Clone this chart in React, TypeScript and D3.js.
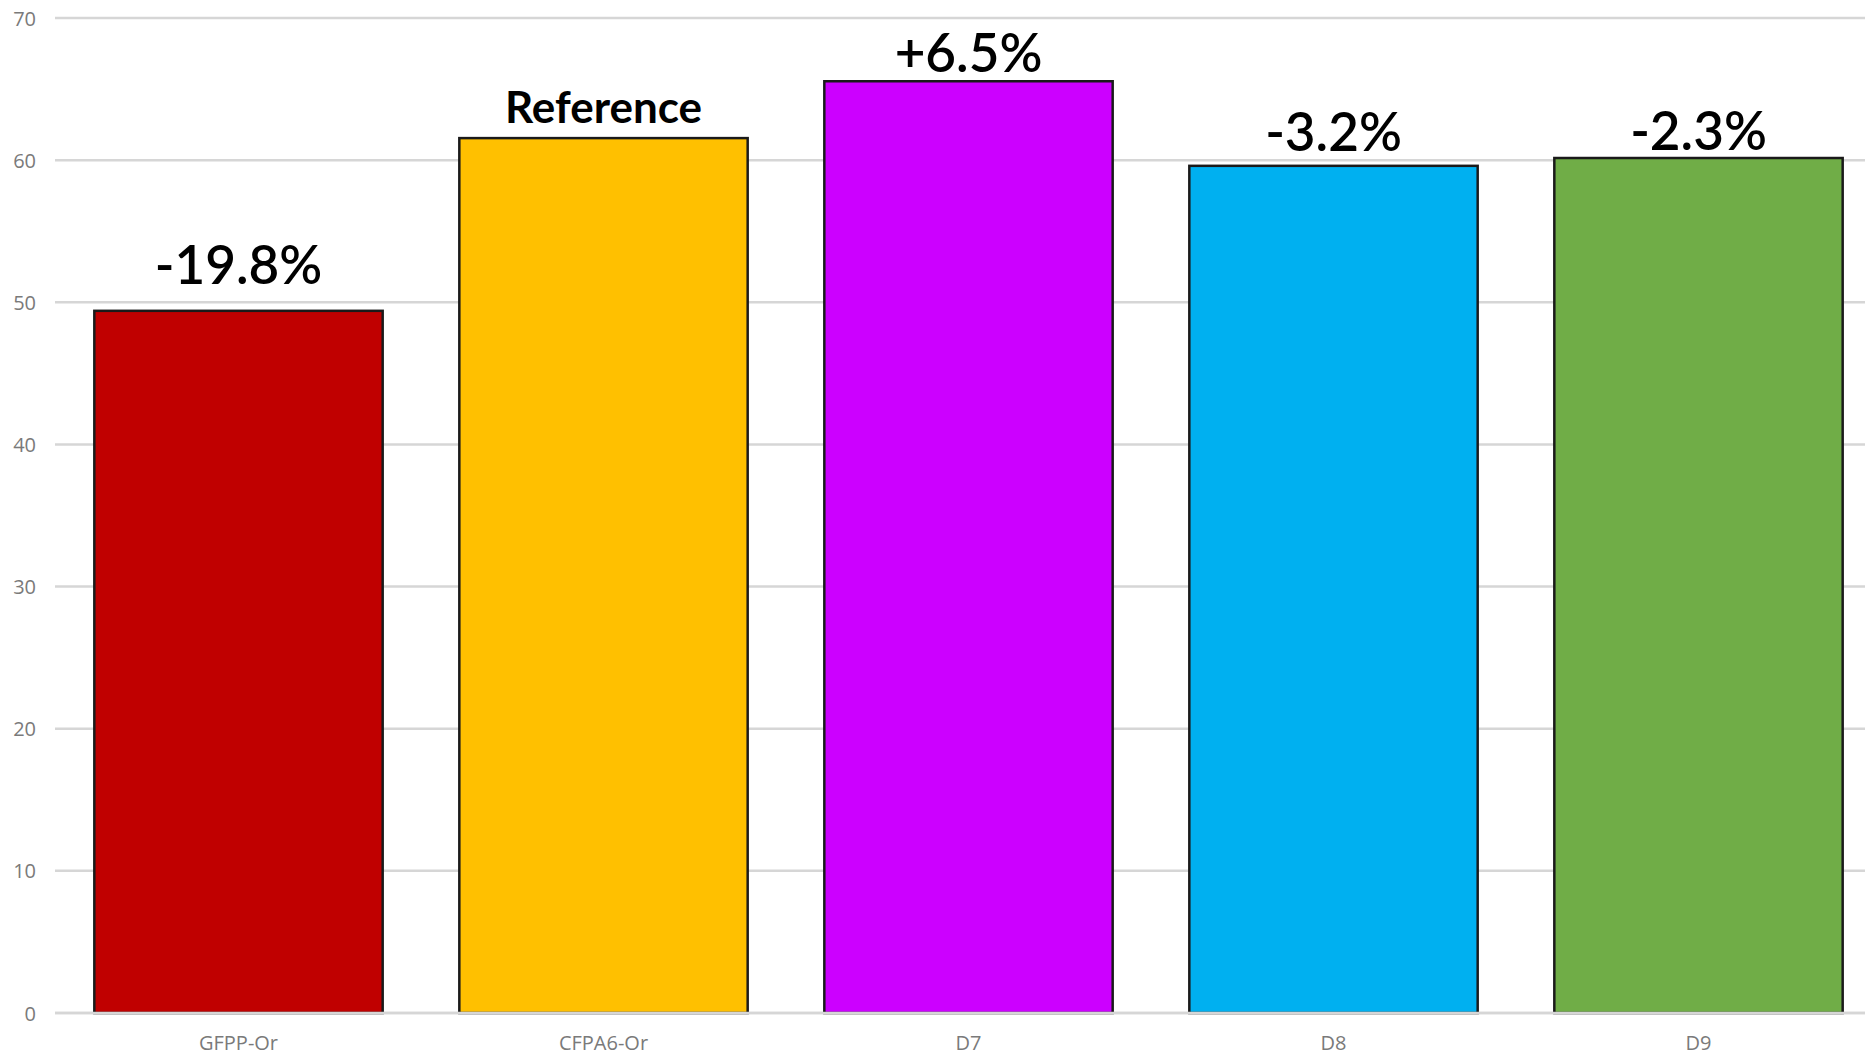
import React from "react";
import * as d3 from "d3";

const categories = ["GFPP-Or", "CFPA6-Or", "D7", "D8", "D9"];
const values = [49.4, 61.55, 65.55, 59.6, 60.15];
const barLabels = ["-19.8%", "Reference", "+6.5%", "-3.2%", "-2.3%"];
const labelBold = [false, true, false, false, false];
const labelLift = [27, 15, 9, 15, 8];
const colors = ["#C00000", "#FFC000", "#CC00FF", "#00B0F0", "#70AD47"];
const yTicks = [0, 10, 20, 30, 40, 50, 60, 70];

const W = 1865;
const H = 1055;

export default function App() {
  const x = d3
    .scaleBand<string>()
    .domain(categories)
    .range([56, 1881])
    .paddingInner(0.21)
    .paddingOuter(0.105);
  const y = d3.scaleLinear().domain([0, 70]).range([1013, 18]);

  return (
    <div style={{ position: "fixed", left: 0, top: 0, width: W, height: H, background: "#fff" }}>
      <svg width={W} height={H} style={{ display: "block" }}>
        <rect x={0} y={0} width={W} height={H} fill="#fff" />
        {yTicks.map((t) => (
          <g key={t}>
            <line x1={55} x2={W} y1={y(t)} y2={y(t)} stroke="#d6d6d6" strokeWidth={2.5} />
            <text
              x={36}
              y={y(t)}
              textAnchor="end"
              dominantBaseline="central"
              fontFamily="'Open Sans', sans-serif"
              fontSize={20}
              fill="#7a7a7a"
            >
              {t}
            </text>
          </g>
        ))}
        {categories.map((c, i) => {
          const bx = x(c)!;
          const bw = x.bandwidth();
          const top = y(values[i]);
          return (
            <g key={c}>
              <rect
                x={bx}
                y={top}
                width={bw}
                height={y(0) - top}
                fill={colors[i]}
                stroke="#1a1a1a"
                strokeWidth={2.5}
              />
              <text
                x={bx + bw / 2}
                y={top - labelLift[i]}
                textAnchor="middle"
                fontFamily="Lato, 'Open Sans', sans-serif"
                fontWeight={labelBold[i] ? 700 : 600}
                fontSize={labelBold[i] ? 44 : 53}
                fill="#000"
              >
                {barLabels[i]}
              </text>
              <text
                x={bx + bw / 2}
                y={1050}
                textAnchor="middle"
                fontFamily="'Open Sans', sans-serif"
                fontSize={20}
                fill="#7a7a7a"
              >
                {c}
              </text>
            </g>
          );
        })}
        <line x1={55} x2={W} y1={y(0)} y2={y(0)} stroke="#d6d6d6" strokeWidth={2.5} />
      </svg>
    </div>
  );
}
